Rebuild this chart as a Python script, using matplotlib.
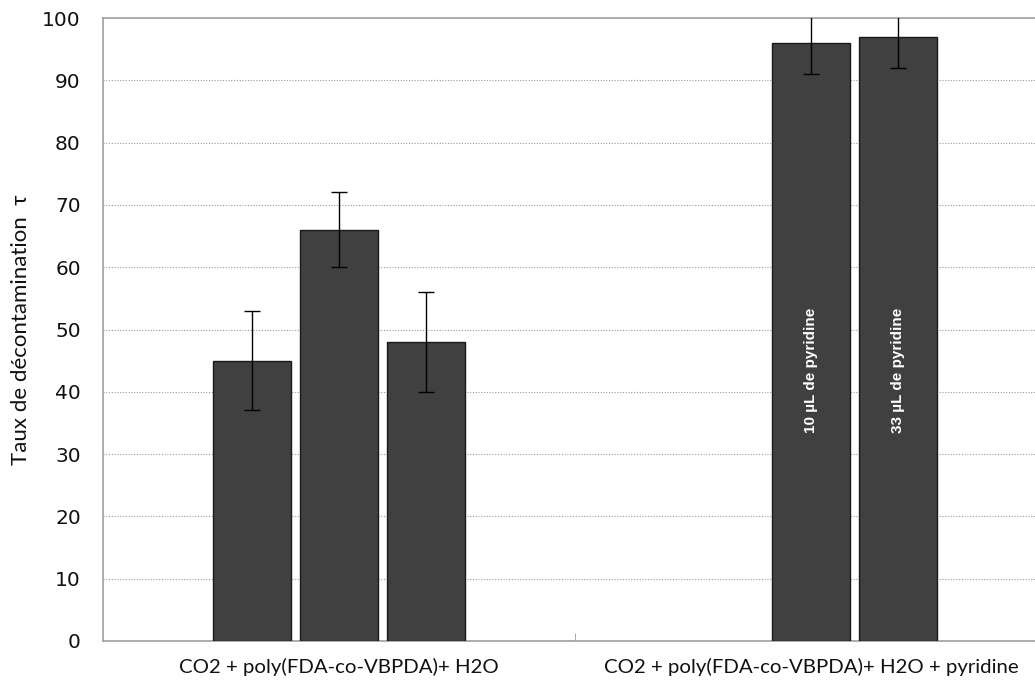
import matplotlib
matplotlib.use("Agg")
import matplotlib.pyplot as plt
from matplotlib import font_manager

categories = ["CO2 + poly(FDA-co-VBPDA)+ H2O", "CO2 + poly(FDA-co-VBPDA)+ H2O + pyridine"]
# group 1: three bars (series slots 0,1,2); group 2: two bars (slots 1,2)
g1_values = [45, 66, 48]
g1_errors = [8, 6, 8]
g2_values = [96, 97]
g2_errors = [5, 5]
g2_labels = ["10 µL de pyridine", "33 µL de pyridine"]
yticks = [0, 10, 20, 30, 40, 50, 60, 70, 80, 90, 100]

names = {f.name for f in font_manager.fontManager.ttflist}
narrow = "Liberation Sans Narrow" if "Liberation Sans Narrow" in names else "Liberation Sans"

W, H = 1035, 682
fig = plt.figure(figsize=(W / 100, H / 100), dpi=100)
ax = fig.add_axes([103 / W, 1 - 641 / H, (1047 - 103) / W, (641 - 18) / H])

offset = 0.184
width = 0.166
bar_color = "#404040"
edge = "#1a1a1a"

x1 = [0 + (i - 1) * offset for i in range(3)]
x2 = [1 + (i) * offset for i in range(2)]

ax.bar(x1, g1_values, width=width, color=bar_color, edgecolor=edge, linewidth=1.0, zorder=3)
ax.errorbar(x1, g1_values, yerr=g1_errors, fmt="none", ecolor="black", elinewidth=1.0,
            capsize=6, capthick=1.0, zorder=4)
ax.bar(x2, g2_values, width=width, color=bar_color, edgecolor=edge, linewidth=1.0, zorder=3)
ax.errorbar(x2, g2_values, yerr=g2_errors, fmt="none", ecolor="black", elinewidth=1.0,
            capsize=6, capthick=1.0, zorder=4)

for xv, lab in zip(x2, g2_labels):
    ax.text(xv, 43.5, lab, rotation=90, color="white", fontsize=11, fontweight="bold",
            ha="center", va="center", family=narrow, zorder=5)

ax.set_xlim(-0.5, 1.5)
ax.set_ylim(0, 100)
ax.set_yticks(yticks)
ax.set_yticklabels([str(t) for t in yticks], fontsize=14.5, family="DejaVu Sans", color="#111111")
ax.tick_params(axis="y", length=0, pad=16)

ax.set_xticks([0, 1])
ax.set_xticklabels(categories, fontsize=14.7, family="Lato", color="#111111")
ax.tick_params(axis="x", length=0, pad=12)
ax.set_xticks([0.5], minor=True)
ax.tick_params(axis="x", which="minor", length=6, direction="in", color="#999999")

ax.set_ylabel("Taux de décontamination  τ", fontsize=16, family="Lato", labelpad=8, color="#111111")

for y in yticks[1:-1]:
    ax.axhline(y, color="#9a9a9a", linestyle=(0, (1, 1.5)), linewidth=0.8, zorder=1)

for s in ["left", "bottom", "top", "right"]:
    ax.spines[s].set_color("#a0a0a0")
    ax.spines[s].set_linewidth(1.2)

fig.savefig("out.png", dpi=100)
